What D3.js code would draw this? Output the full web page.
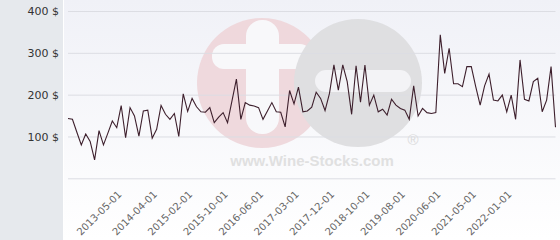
<!DOCTYPE html>
<html lang="en">
<head>
<meta charset="UTF-8"/>
<title>Wine price history</title>
<script src="https://d3js.org/d3.v7.min.js"></script>
<style>
	body { margin: 0; background: #ffffff; }
	svg { display: block; }
</style>
</head>
<body>
<script>
	var w = 560;
	var h = 240;

	// one entry per observation (categorical x axis)
	var dates = [
		"2012-05-01", "2012-06-01", "2012-07-01", "2012-08-01", "2012-09-01", "2012-10-01", "2012-11-01",
		"2012-12-01", "2013-01-01", "2013-02-01", "2013-03-01", "2013-04-01", "2013-05-01", "2013-06-01",
		"2013-07-01", "2013-09-01", "2013-10-01", "2013-12-01", "2014-01-01", "2014-02-01", "2014-04-01",
		"2014-05-01", "2014-06-01", "2014-08-01", "2014-09-01", "2014-10-01", "2014-12-01", "2015-01-01",
		"2015-02-01", "2015-03-01", "2015-04-01", "2015-05-01", "2015-06-01", "2015-07-01", "2015-08-01",
		"2015-09-01", "2015-10-01", "2015-11-01", "2015-12-01", "2016-01-01", "2016-02-01", "2016-03-01",
		"2016-04-01", "2016-05-01", "2016-06-01", "2016-07-01", "2016-08-01", "2016-09-01", "2016-10-01",
		"2016-11-01", "2017-01-01", "2017-02-01", "2017-03-01", "2017-04-01", "2017-05-01", "2017-06-01",
		"2017-07-01", "2017-08-01", "2017-10-01", "2017-11-01", "2017-12-01", "2018-01-01", "2018-02-01",
		"2018-03-01", "2018-05-01", "2018-06-01", "2018-07-01", "2018-09-01", "2018-10-01", "2018-11-01",
		"2018-12-01", "2019-01-01", "2019-03-01", "2019-04-01", "2019-05-01", "2019-07-01", "2019-08-01",
		"2019-09-01", "2019-10-01", "2019-11-01", "2020-01-01", "2020-02-01", "2020-03-01", "2020-05-01",
		"2020-06-01", "2020-07-01", "2020-09-01", "2020-10-01", "2020-11-01", "2021-01-01", "2021-02-01",
		"2021-03-01", "2021-05-01", "2021-06-01", "2021-07-01", "2021-08-01", "2021-09-01", "2021-10-01",
		"2021-11-01", "2021-12-01", "2022-01-01", "2022-02-01", "2022-03-01", "2022-04-01", "2022-05-01",
		"2022-06-01", "2022-07-01", "2022-08-01", "2022-09-01", "2022-10-01", "2022-11-01"
	];

	// price in $
	var prices = [
		143, 141, 110, 80, 106, 88, 44, 114, 80, 108, 137, 121, 174, 97,
		169, 149, 101, 161, 163, 96, 117, 174, 153, 141, 155, 100, 202, 160,
		191, 171, 159, 158, 169, 133, 146, 157, 133, 185, 237, 141, 181, 175,
		173, 169, 141, 161, 181, 159, 158, 123, 210, 178, 218, 159, 161, 170,
		206, 191, 162, 203, 271, 211, 271, 231, 153, 269, 182, 271, 175, 199,
		159, 165, 151, 189, 175, 167, 163, 141, 221, 149, 167, 157, 155, 157,
		343, 251, 311, 226, 226, 219, 267, 267, 219, 175, 221, 249, 187, 185,
		199, 159, 199, 141, 283, 189, 185, 231, 239, 159, 187, 267, 122
	];

	var xTickLabels = [
		"2013-05-01", "2014-04-01", "2015-02-01", "2015-10-01", "2016-06-01", "2017-03-01",
		"2017-12-01", "2018-10-01", "2019-08-01", "2020-06-01", "2021-05-01", "2022-01-01"
	];
	var yTicks = [0, 100, 200, 300, 400];

	var plotLeft = 68, plotRight = 555.5, plotTop = 11, plotBottom = 178.3;

	var svg = d3.select("body")
		.append("svg")
		.attr("width", w)
		.attr("height", h);

	var defs = svg.append("defs");
	var grad = defs.append("linearGradient")
		.attr("id", "bg")
		.attr("x1", 0).attr("y1", 0)
		.attr("x2", 0).attr("y2", 1);
	grad.append("stop").attr("offset", "0%").attr("stop-color", "#f0f1f7");
	grad.append("stop").attr("offset", "100%").attr("stop-color", "#ffffff");

	// backgrounds
	svg.append("rect")
		.attr("x", 0).attr("y", 0)
		.attr("width", 63).attr("height", h)
		.attr("fill", "#e6e9ed");
	svg.append("rect")
		.attr("x", 64).attr("y", 0)
		.attr("width", w - 64).attr("height", h)
		.attr("fill", "url(#bg)");

	// watermark logo (decoration only)
	var wm = svg.append("g").attr("opacity", 0.9);
	wm.append("circle").attr("cx", 262).attr("cy", 83).attr("r", 65).attr("fill", "#efd6da");
	wm.append("rect").attr("x", 246).attr("y", 20).attr("width", 33).attr("height", 114).attr("rx", 16).attr("fill", "#f9f9fb");
	wm.append("rect").attr("x", 212).attr("y", 44).attr("width", 100).attr("height", 25).attr("rx", 12).attr("fill", "#f9f9fb");
	wm.append("circle").attr("cx", 358).attr("cy", 83).attr("r", 64).attr("fill", "#dddddf");
	wm.append("rect").attr("x", 315).attr("y", 70).attr("width", 96).attr("height", 22).attr("rx", 11).attr("fill", "#f3f3f6");
	wm.append("text")
		.attr("x", 312).attr("y", 166)
		.attr("text-anchor", "middle")
		.attr("font-family", "Liberation Sans, Arial, sans-serif")
		.attr("font-weight", "bold")
		.attr("font-size", "15px")
		.attr("fill", "#dedede")
		.text("www.Wine-Stocks.com");
	wm.append("text")
		.attr("x", 413).attr("y", 145)
		.attr("text-anchor", "middle")
		.attr("font-family", "Liberation Sans, Arial, sans-serif")
		.attr("font-size", "15px")
		.attr("fill", "#d8d8d8")
		.text("\u00ae");

	var xScale = d3.scalePoint()
		.domain(dates)
		.range([plotLeft, plotRight]);

	var yScale = d3.scaleLinear()
		.domain([0, 400])
		.range([plotBottom, plotTop]);

	// y axis with grid lines
	var yAxis = d3.axisLeft(yScale)
		.tickValues(yTicks)
		.tickSize(-(plotRight - plotLeft))
		.tickPadding(9)
		.tickFormat(function (d) { return d ? d + " $" : ""; });
	var gy = svg.append("g")
		.attr("transform", "translate(" + plotLeft + ",0)")
		.call(yAxis);
	gy.select(".domain").remove();
	gy.selectAll("line").attr("stroke", "#dcdde3").attr("stroke-width", 1);
	gy.selectAll("text")
		.attr("font-family", "DejaVu Sans, sans-serif")
		.attr("font-size", "11px")
		.attr("fill", "#333333");

	// x axis, rotated labels
	var xAxis = d3.axisBottom(xScale)
		.tickValues(xTickLabels)
		.tickSize(0)
		.tickPadding(0);
	var gx = svg.append("g")
		.attr("transform", "translate(0," + 195 + ")")
		.call(xAxis);
	gx.select(".domain").remove();
	gx.selectAll("text")
		.attr("font-family", "DejaVu Sans, sans-serif")
		.attr("font-size", "10px")
		.attr("fill", "#666666")
		.attr("text-anchor", "end")
		.attr("dy", 0)
		.attr("y", 0)
		.attr("x", 0)
		.attr("transform", "translate(0.5,0) rotate(-45)");

	// price line
	var line = d3.line()
		.x(function (d, i) { return xScale(dates[i]); })
		.y(function (d) { return yScale(d); });

	svg.append("path")
		.datum(prices)
		.attr("d", line)
		.attr("fill", "none")
		.attr("stroke", "#3d1f2c")
		.attr("stroke-width", 1.1);
</script>
</body>
</html>
